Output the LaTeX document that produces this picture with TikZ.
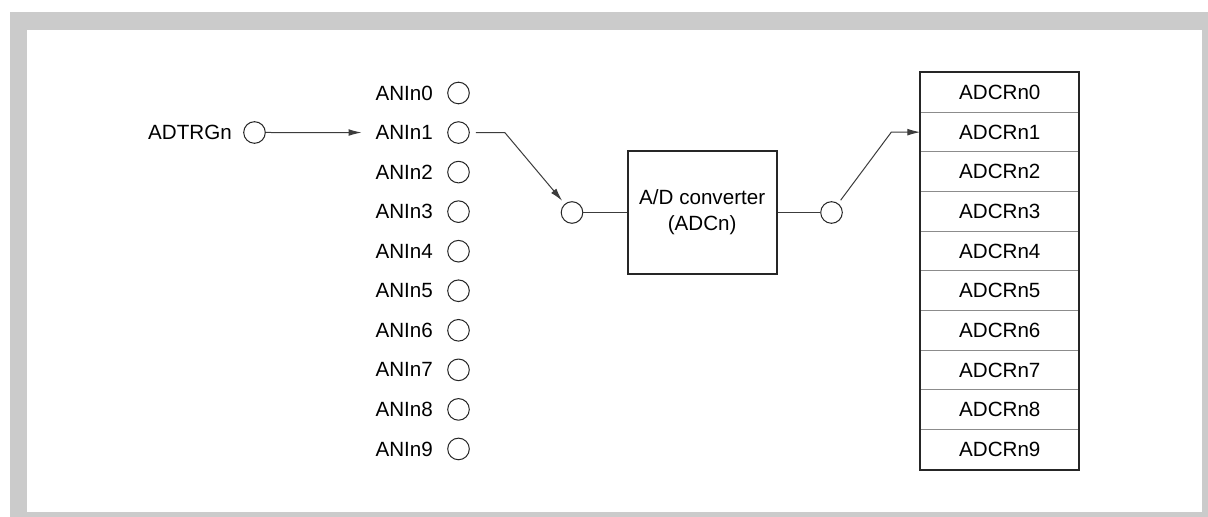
\documentclass[tikz,border=0pt]{standalone}
\usepackage{fontspec}
\setmainfont{Liberation Sans}
\usetikzlibrary{positioning,arrows.meta}
\definecolor{framegray}{HTML}{CBCBCB}
\definecolor{wiregray}{HTML}{3C3C3C}

\begin{document}
\begin{tikzpicture}[
  x=0.5pt, y={(0pt,-0.5pt)},
  font=\fontsize{10.3}{13}\selectfont,
  port/.style={draw=black!85, circle, line width=0.5pt, minimum size=10.8pt,
               inner sep=0pt},
  lbl/.style ={inner sep=0pt},
  conv/.style={draw=black!85, line width=1pt, minimum width=74.5pt,
               minimum height=61.3pt, align=center, inner sep=0pt},
  cell/.style={draw=black!45, line width=0.5pt, minimum width=79pt,
               minimum height=19.83pt, inner sep=0pt},
  wire/.style={draw=wiregray, line width=0.5pt},
  arr/.style ={wire, -{Latex[length=6.5pt,width=3.4pt]}},
]

\useasboundingbox (0,0) rectangle (1208,517);
\fill[framegray] (10,12) rectangle (1208,517);
\fill[white] (27,30) rectangle (1202,512);

% analog inputs
\foreach \i in {0,...,9} {
  \node[port] (c\i) at (458.5,{93+39.55*\i}) {};
  \node[lbl, left=7pt of c\i] (a\i) {ANIn\i};
}

\node[port] (trg) at (254.5,132.5) {};
\node[lbl, left=5.5pt of trg] (trglbl) {ADTRGn};

\node[port] (adin) at (572,212.5) {};
\node[conv] (conv) at (702.2,212.5) {A/D converter\\(ADCn)};
\node[port] (adout) at (831.5,212.5) {};

% result registers
\foreach \i in {0,...,9}
  \node[cell] (r\i) at (999.8,{92.5+39.66*\i}) {ADCRn\i};
\draw[draw=black!85, line width=1pt] (r0.north west) rectangle (r9.south east);

\coordinate[right=17.5pt of c1.east] (k1);
\coordinate[left=14.5pt of r1.west] (k2);

\draw[arr, shorten >=6.8pt] (trg) -- (a1);
\draw[arr, shorten <=3pt, shorten >=2pt] (c1) -- (k1) -- (adin);
\draw[wire] (adin) -- (conv);
\draw[wire] (conv) -- (adout);
\draw[arr, shorten <=2pt] (adout) -- (k2) -- (r1);

\end{tikzpicture}
\end{document}
